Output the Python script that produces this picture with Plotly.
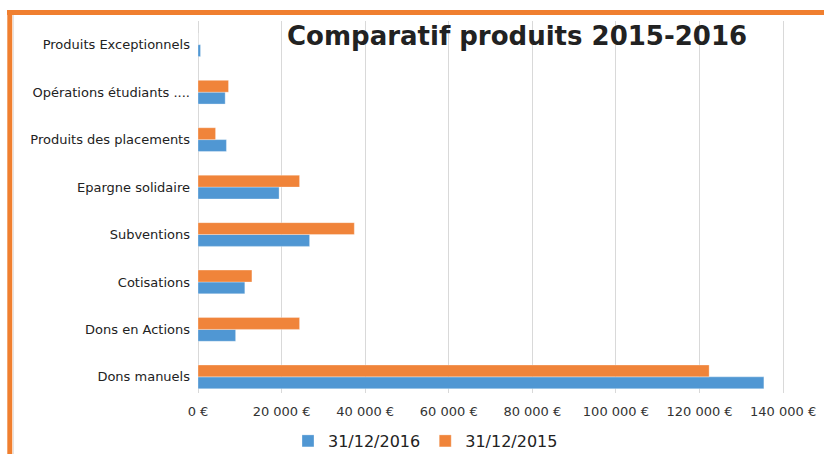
import plotly.graph_objects as go

# Product categories, bottom to top
categories = [
    "Dons manuels",
    "Dons en Actions",
    "Cotisations",
    "Subventions",
    "Epargne solidaire",
    "Produits des placements",
    "Opérations étudiants ....",
    "Produits Exceptionnels",
]

# Amounts in euros per year-end
values_2016 = [135400, 9000, 11200, 26700, 19400, 6800, 6500, 600]
values_2015 = [122300, 24300, 12900, 37400, 24300, 4200, 7300, 0]

series_names = ["31/12/2016", "31/12/2015"]

tick_values = [0, 20000, 40000, 60000, 80000, 100000, 120000, 140000]
tick_labels = ["0 €", "20 000 €", "40 000 €", "60 000 €", "80 000 €",
               "100 000 €", "120 000 €", "140 000 €"]

title_text = "Comparatif produits 2015-2016"

BLUE = "#5097D3"
ORANGE = "#F0843A"
FONT = "DejaVu Sans, Verdana, sans-serif"

W, H = 824, 454
M_L, M_R, M_T, M_B = 198, 20, 21, 61


def px_x(p):
    return (p - M_L) / (W - M_L - M_R)


def px_y(p):
    return (H - M_B - p) / (H - M_T - M_B)


fig = go.Figure()
fig.add_trace(go.Bar(
    y=categories, x=values_2016, name=series_names[0], orientation="h",
    marker=dict(color=BLUE, line=dict(color="rgba(255,255,255,0.6)", width=0.5)),
))
fig.add_trace(go.Bar(
    y=categories, x=values_2015, name=series_names[1], orientation="h",
    marker=dict(color=ORANGE, line=dict(color="rgba(255,255,255,0.6)", width=0.5)),
))

fig.update_layout(
    width=W, height=H,
    margin=dict(l=M_L, r=M_R, t=M_T, b=M_B, pad=0, autoexpand=False),
    paper_bgcolor="white", plot_bgcolor="white",
    barmode="group", bargap=0.5, bargroupgap=0,
    font=dict(family=FONT, color="#222"),
    showlegend=True,
    legend=dict(
        orientation="h", xref="container", yref="container",
        x=288 / W, xanchor="left",
        y=1 - 441 / H, yanchor="middle",
        font=dict(size=16, color="#222"),
        itemwidth=30, traceorder="normal",
    ),
    xaxis=dict(
        range=[0, 145000], tickvals=tick_values, ticktext=tick_labels,
        showgrid=True, gridcolor="#D9D9D9", gridwidth=1,
        zeroline=True, zerolinecolor="#D9D9D9", zerolinewidth=1,
        showline=False, ticks="", ticklabelstandoff=9,
        tickfont=dict(size=13, color="#333"),
    ),
    yaxis=dict(
        range=[-0.34, 7.5], showgrid=False, zeroline=False, showline=False,
        ticks="", ticklabelstandoff=7,
        tickfont=dict(size=13, color="#222"),
    ),
    shapes=[
        # orange frame, top edge and left edge
        dict(type="line", xref="paper", yref="paper",
             x0=px_x(7), x1=px_x(824), y0=px_y(12.5), y1=px_y(12.5),
             line=dict(color="#F07F2F", width=5), layer="above"),
        dict(type="line", xref="paper", yref="paper",
             x0=px_x(9.8), x1=px_x(9.8), y0=px_y(10), y1=px_y(454),
             line=dict(color="#F07F2F", width=5), layer="above"),
        dict(type="line", xref="paper", yref="paper",
             x0=px_x(13.5), x1=px_x(13.5), y0=px_y(15), y1=px_y(454),
             line=dict(color="#E4E4E4", width=1), layer="above"),
    ],
    annotations=[
        dict(text=title_text, xref="paper", yref="paper",
             x=px_x(517), y=px_y(36), xanchor="center", yanchor="middle",
             showarrow=False,
             font=dict(size=26, color="#222", family=FONT, weight="bold")),
    ],
)

fig.write_html("out.html")
